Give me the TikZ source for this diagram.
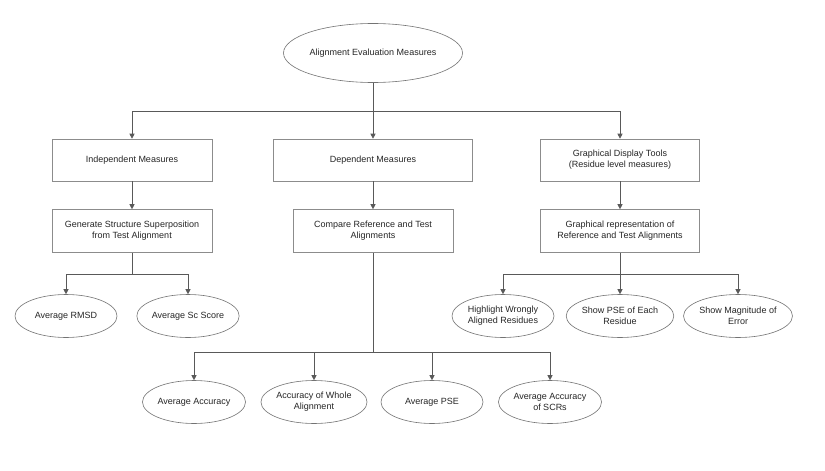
\documentclass[tikz,border=0pt]{standalone}
\usepackage{fontspec}
\setmainfont{Liberation Sans}
\usetikzlibrary{shapes.geometric,arrows.meta}
\begin{document}
\begin{tikzpicture}[x=1pt,y=-1pt,
  every node/.style={font=\fontsize{9}{11}\selectfont, text=black!85, align=center, inner sep=0pt},
  boxn/.style={draw=black!45, line width=0.6pt, rectangle, minimum height=42pt},
  ell/.style={draw=black!55, line width=0.6pt, ellipse, minimum width=102pt, minimum height=43pt},
  conn/.style={draw=black!65, line width=0.6pt},
  arr/.style={conn, -{Triangle[length=5pt,width=5pt]}}]
\useasboundingbox (0,0) rectangle (825,471);
\fill[white] (0,0) rectangle (825,471);
% top
\node[ell, minimum width=172pt, minimum height=59pt] (top) at (373,53) {Alignment Evaluation Measures};
% row 1
\node[boxn, minimum width=160pt] (indep) at (132,160) {Independent Measures};
\node[boxn, minimum width=199pt] (dep) at (373,160) {Dependent Measures};
\node[boxn, minimum width=159pt] (graph) at (620,160) {Graphical Display Tools\\(Residue level measures)};
% row 2
\node[boxn, minimum width=160pt, minimum height=43pt] (gen) at (132,231) {Generate Structure Superposition\\from Test Alignment};
\node[boxn, minimum width=160pt, minimum height=43pt] (comp) at (373,231) {Compare Reference and Test\\Alignments};
\node[boxn, minimum width=159pt, minimum height=43pt] (grep) at (620,231) {Graphical representation of\\Reference and Test Alignments};
% row 3
\node[ell] (rmsd) at (66,316) {Average RMSD};
\node[ell] (sc) at (188,316) {Average Sc Score};
\node[ell] (hw) at (503,316) {Highlight Wrongly\\Aligned Residues};
\node[ell] (pse) at (620,316) {Show PSE of Each\\Residue};
\node[ell] (mag) at (738,316) {Show Magnitude of\\Error};
% row 4
\node[ell] (acc) at (194,402) {Average Accuracy};
\node[ell] (whole) at (314,402) {Accuracy of Whole\\Alignment};
\node[ell] (apse) at (432,402) {Average PSE};
\node[ell] (scr) at (550,402) {Average Accuracy\\of SCRs};
% junctions
\coordinate (j1) at (373,111);
\coordinate (j2) at (132,274);
\coordinate (j3) at (373,352);
\coordinate (j4) at (620,274);
% connectors
\draw[conn] (top) -- (j1);
\draw[arr] (j1) -| (indep);
\draw[arr] (j1) -- (dep);
\draw[arr] (j1) -| (graph);
\draw[arr] (indep) -- (gen);
\draw[arr] (dep) -- (comp);
\draw[arr] (graph) -- (grep);
\draw[conn] (gen) -- (j2);
\draw[arr] (j2) -| (rmsd);
\draw[arr] (j2) -| (sc);
\draw[conn] (grep) -- (j4);
\draw[arr] (j4) -| (hw);
\draw[arr] (j4) -- (pse);
\draw[arr] (j4) -| (mag);
\draw[conn] (comp) -- (j3);
\draw[arr] (j3) -| (acc);
\draw[arr] (j3) -| (whole);
\draw[arr] (j3) -| (apse);
\draw[arr] (j3) -| (scr);
\end{tikzpicture}
\end{document}
